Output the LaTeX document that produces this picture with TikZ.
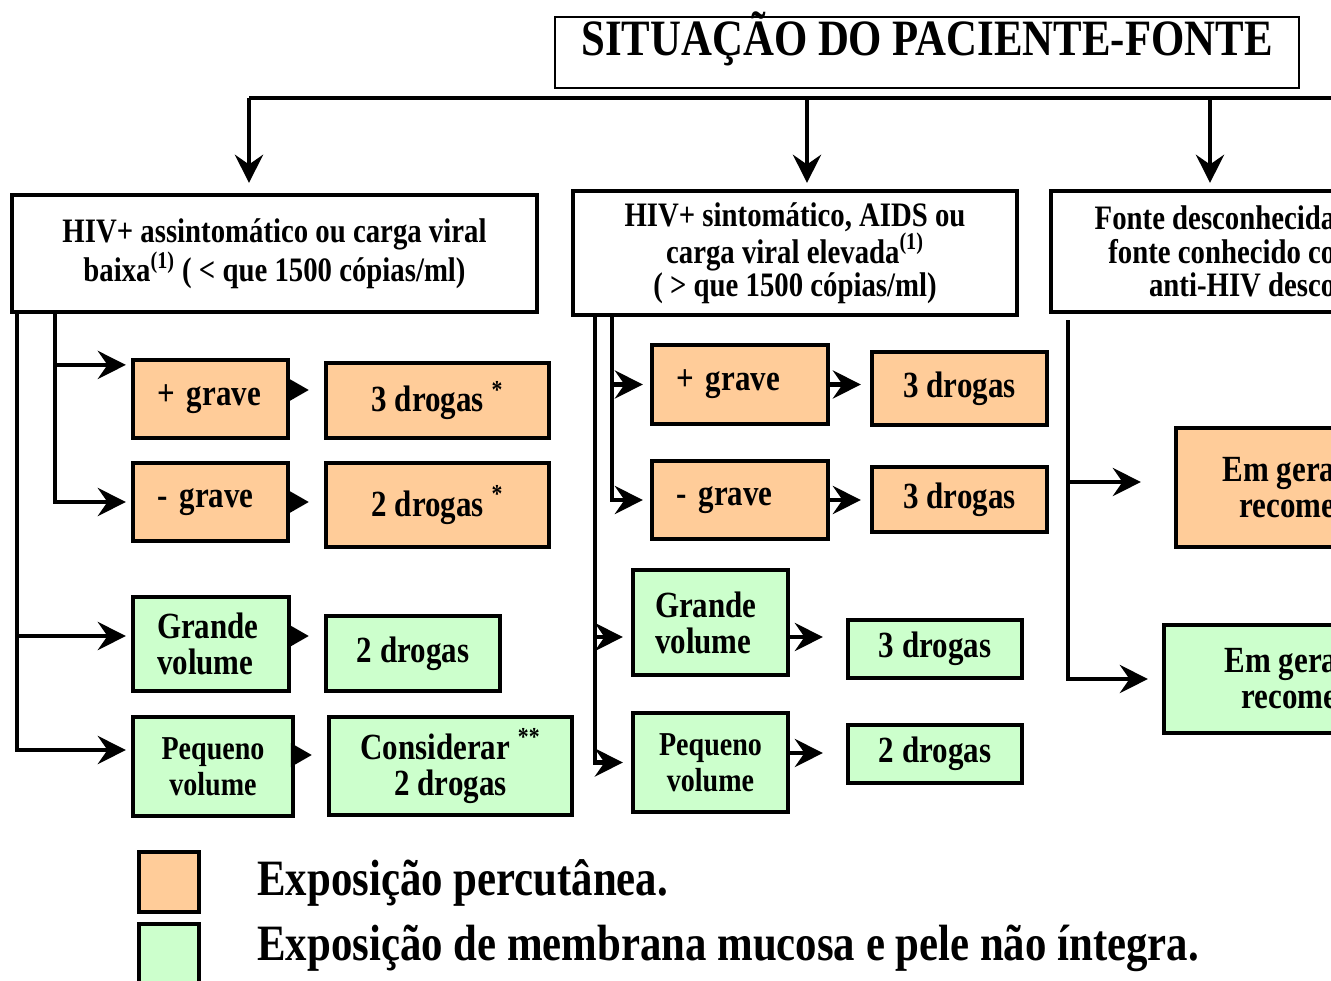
\documentclass[tikz,border=0pt]{standalone}
\usepackage{fontspec}
\setmainfont[FakeStretch=0.84]{Liberation Serif}
\usetikzlibrary{arrows.meta}
\definecolor{pessego}{HTML}{FFCC99}
\definecolor{menta}{HTML}{CCFFCC}

\begin{document}
\begin{tikzpicture}[x=0.02cm, y=-0.02cm,
    caixa/.style={draw, line width=2.4pt, inner sep=0pt, align=center,
                  font=\bfseries\fontsize{21}{20.5}\selectfont},
    perc/.style={caixa, fill=pessego},
    muco/.style={caixa, fill=menta},
    esq/.style={align=left, text width=#1},
    linha/.style={line width=2.3pt},
    seta/.style={linha, -{Stealth[length=16pt, width=16pt, inset=5.5pt]}},
    ponta/.style={linha, -{Triangle[length=12pt, width=13pt]}}]

    \useasboundingbox (0,0) rectangle (1331,980);
    \clip (0,0) rectangle (1331,980);

    % titulo
    \node (titulo) at (927,16) [draw, line width=1pt, anchor=north, inner sep=0pt,
        minimum width=14.88cm, text height=0.78cm, text depth=0.64cm,
        font=\bfseries\fontsize{29}{29}\selectfont] {SITUAÇÃO DO PACIENTE-FONTE};

    \coordinate (s1) at (249,98);
    \coordinate (s2) at (807,98);
    \coordinate (s3) at (1210,98);
    \coordinate (s4) at (1345,98);

    % situacoes
    \node (A) at (274.5,253.5) [caixa, minimum width=10.5cm, minimum height=2.34cm,
        font=\bfseries\fontsize{19.5}{20}\selectfont]
        {HIV+ assintomático ou carga viral\\baixa\textsuperscript{(1)} ( < que 1500 cópias/ml)};
    \node (B) at (795,253) [caixa, minimum width=8.88cm, minimum height=2.48cm,
        font=\bfseries\fontsize{19.5}{19}\selectfont]
        {HIV+ sintomático, AIDS ou\\carga viral elevada\textsuperscript{(1)}\\( > que 1500 cópias/ml)};
    \node (C) at (1215,251.5) [caixa, align=right, minimum width=6.56cm, minimum height=2.42cm,
        font=\bfseries\fontsize{19.5}{19}\selectfont]
        {Fonte desconhecida\\fonte conhecido co\\anti-HIV desco};

    \draw [linha] (s1) -- (s4);
    \draw [seta, shorten >=0.2cm] (s1) -- (s1 |- A.north);
    \draw [seta, shorten >=0.12cm] (s2) -- (s2 |- B.north);
    \draw [seta, shorten >=0.12cm] (s3) -- (s3 |- C.north);

    % HIV+ assintomatico
    \node (g1) at (210.5,399) [perc, esq=2.14cm, minimum width=3.1cm, minimum height=1.56cm] {+ grave};
    \node (g2) at (210.5,502) [perc, esq=2.14cm, minimum width=3.1cm, minimum height=1.56cm] {- grave};
    \node (d1) at (437.5,400.5) [perc, minimum width=4.46cm, minimum height=1.5cm]
        {3 drogas \textsuperscript{*}};
    \node (d2) at (437.5,505) [perc, minimum width=4.46cm, minimum height=1.68cm]
        {2 drogas \textsuperscript{*}};
    \node (v1) at (211,644) [muco, esq=2.16cm, minimum width=3.12cm, minimum height=1.88cm]
        {Grande\\volume};
    \node (d3) at (413,653.5) [muco, minimum width=3.48cm, minimum height=1.5cm] {2 drogas};
    \node (p1) at (213,766.5) [muco, minimum width=3.2cm, minimum height=1.98cm,
        font=\bfseries\fontsize{19}{20.5}\selectfont] {Pequeno\\volume};
    \node (d4) at (450.5,766) [muco, minimum width=4.86cm, minimum height=1.96cm]
        {Considerar \textsuperscript{**}\\2 drogas};

    \draw [seta, shorten >=0.1cm] ([xshift=0.9cm]A.south west) |- ([yshift=-0.14cm]g1.north west);
    \draw [seta, shorten >=0.1cm] ([xshift=0.9cm]A.south west) |- (g2.west);
    \draw [seta, shorten >=0.1cm] ([xshift=0.14cm]A.south west) |- ([yshift=0.16cm]v1.west);
    \draw [seta, shorten >=0.1cm] ([xshift=0.14cm]A.south west) |- ([yshift=0.33cm]p1.west);

    \draw [ponta, shorten >=0.3cm] ([yshift=0.18cm]g1.east) -- ([yshift=0.18cm]g1.east -| d1.west);
    \draw [ponta, shorten >=0.3cm] (g2.east) -- (g2.east -| d2.west);
    \draw [ponta, shorten >=0.3cm] ([yshift=0.16cm]v1.east) -- ([yshift=0.16cm]v1.east -| d3.west);
    \draw [ponta, shorten >=0.3cm] ([yshift=0.23cm]p1.east) -- ([yshift=0.23cm]p1.east -| d4.west);

    % HIV+ sintomatico
    \node (g3) at (740,384.5) [perc, esq=2.56cm, minimum width=3.52cm, minimum height=1.58cm] {+ grave};
    \node (d5) at (959.5,388.5) [perc, minimum width=3.5cm, minimum height=1.46cm] {3 drogas};
    \node (g4) at (740,500) [perc, esq=2.56cm, minimum width=3.52cm, minimum height=1.56cm] {- grave};
    \node (d6) at (959.5,499.5) [perc, minimum width=3.5cm, minimum height=1.3cm] {3 drogas};
    \node (v2) at (710.5,622.5) [muco, esq=2.22cm, minimum width=3.1cm, minimum height=2.1cm]
        {Grande\\volume};
    \node (d7) at (935,649) [muco, minimum width=3.48cm, minimum height=1.16cm] {3 drogas};
    \node (p2) at (710.5,762.5) [muco, minimum width=3.1cm, minimum height=1.98cm,
        font=\bfseries\fontsize{19}{20.5}\selectfont] {Pequeno\\volume};
    \node (d8) at (935,754) [muco, minimum width=3.48cm, minimum height=1.16cm] {2 drogas};

    \draw [seta, shorten >=0.14cm] ([xshift=0.82cm]B.south west) |- (g3.west);
    \draw [seta, shorten >=0.14cm] ([xshift=0.82cm]B.south west) |- (g4.west);
    \draw [seta, shorten >=0.16cm] ([xshift=0.48cm]B.south west) |- ([yshift=-0.29cm]v2.west);
    \draw [seta, shorten >=0.16cm] ([xshift=0.48cm]B.south west) |- (p2.west);

    \draw [seta, shorten >=0.18cm] (g3.east) -- (g3.east -| d5.west);
    \draw [seta, shorten >=0.18cm] (g4.east) -- (g4.east -| d6.west);
    \draw [seta, shorten >=0.46cm] ([yshift=-0.29cm]v2.east) -- ([yshift=-0.29cm]v2.east -| d7.west);
    \draw [seta, shorten >=0.46cm] ([yshift=0.19cm]p2.east) -- ([yshift=0.19cm]p2.east -| d8.west);

    % fonte desconhecida
    \node (e1) at (1279,487.5) [perc, align=right, minimum width=4.12cm, minimum height=2.38cm]
        {Em gera\\recome};
    \node (e2) at (1281,679) [muco, align=right, minimum width=4.68cm, minimum height=2.16cm]
        {Em gera\\recome};

    \draw [seta, shorten >=0.66cm] ([xshift=0.38cm, yshift=-0.12cm]C.south west) |- ([yshift=0.11cm]e1.west);
    \draw [seta, shorten >=0.28cm] ([xshift=0.38cm, yshift=-0.12cm]C.south west) |- (e2.west);

    % legenda
    \node (l1) at (169,882) [perc, minimum size=1.2cm] {};
    \node (l2) at (169,954) [muco, minimum size=1.2cm] {};
    \node (t1) at (257,895) [anchor=base west, inner sep=0pt,
        font=\bfseries\fontsize{29}{29}\selectfont] {Exposição percutânea.};
    \node (t2) at (257,960) [anchor=base west, inner sep=0pt,
        font=\bfseries\fontsize{29}{29}\selectfont] {Exposição de membrana mucosa e pele não íntegra.};
\end{tikzpicture}
\end{document}
